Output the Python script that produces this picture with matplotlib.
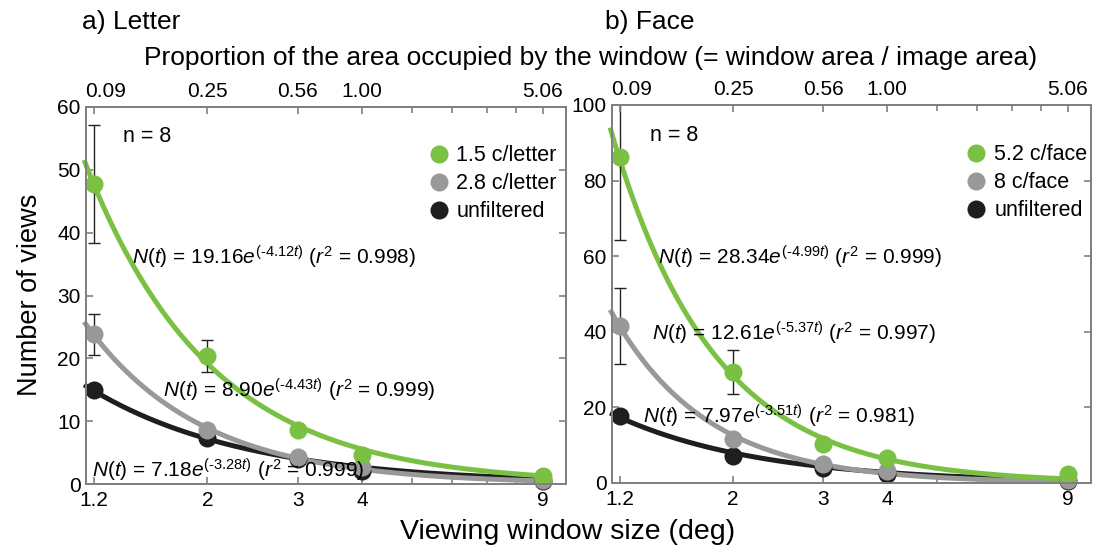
import numpy as np
import matplotlib
matplotlib.use("Agg")
import matplotlib.pyplot as plt
from matplotlib.lines import Line2D
from matplotlib.ticker import LogLocator, NullFormatter, FixedLocator
from matplotlib.transforms import ScaledTranslation

plt.rcParams['font.family'] = ['Liberation Sans', 'DejaVu Sans']
plt.rcParams['mathtext.fontset'] = 'custom'
plt.rcParams['mathtext.rm'] = 'Liberation Sans'
plt.rcParams['mathtext.it'] = 'Liberation Sans:italic'

#viewing window sizes (deg) and top axis labels
windows = [1.2, 2, 3, 4, 9]
top_labels = ['0.09', '0.25', '0.56', '1.00', '5.06']

#a) letter data
letter_green = [47.8, 20.4, 8.6, 4.6, 1.3]
letter_gray = [23.8, 8.6, 4.3, 2.7, 0.6]
letter_black = [14.9, 7.3, 3.9, 2.0, 0.5]
letter_green_err = [9.4, 2.5, np.nan, np.nan, np.nan]
letter_gray_err = [3.2, np.nan, np.nan, np.nan, np.nan]
letter_labels = ['1.5 c/letter', '2.8 c/letter', 'unfiltered']
#fit N(t) = a*e^(b t): a, b, r2
letter_a = [19.16, 8.90, 7.18]
letter_b = [-4.12, -4.43, -3.28]
letter_r2 = ['0.998', '0.999', '0.999']

#b) face data
face_green = [86.2, 29.4, 10.2, 6.6, 2.3]
face_gray = [41.5, 11.7, 4.9, 3.1, 0.8]
face_black = [17.6, 7.1, 4.0, 2.4, 0.5]
face_green_err = [22.0, 5.8, np.nan, np.nan, np.nan]
face_gray_err = [10.0, np.nan, np.nan, np.nan, np.nan]
face_labels = ['5.2 c/face', '8 c/face', 'unfiltered']
face_a = [28.34, 12.61, 7.97]
face_b = [-4.99, -5.37, -3.51]
face_r2 = ['0.999', '0.997', '0.981']

colors = ['#7ac143', '#999999', '#1e1e1e']
spine_col = '#808080'


def fit_label(a, b, r2):
    #hyphen (not minus) in the exponent, like the original
    return (r'$\mathit{N(t)}$ = %.2f$\mathit{e}^{(\mathrm{‐%.2f}\mathit{t})}$ ($\mathit{r}^{2}$ = %s)'
            % (a, abs(b), r2))


def draw_panel(ax, series, errs, a_s, b_s, r2s, labels, ylim, ystep,
               fit_pos, n_pos, leg_anchor):
    w = np.geomspace(1.15, 9, 200)
    #draw from back (black) to front (green)
    for i in [2, 1, 0]:
        t = np.log10(w / 2.0)
        ax.plot(w, a_s[i] * np.exp(b_s[i] * t), color=colors[i], lw=3.6,
                zorder=2 + (2 - i), clip_on=False, solid_capstyle='butt')
        if errs[i] is not None:
            err = np.array(errs[i])
            m = ~np.isnan(err)
            ax.errorbar(np.array(windows)[m], np.array(series[i])[m],
                        yerr=err[m], fmt='none', ecolor='#222222',
                        elinewidth=1.0, capsize=4, capthick=1.0, zorder=6)
        ax.plot(windows, series[i], 'o', color=colors[i], ms=13, mec='none',
                zorder=8 + (2 - i), clip_on=False)

    ax.set_xscale('log')
    ax.set_xlim(1.16, 10.0)
    ax.set_ylim(*ylim)
    ax.xaxis.set_major_locator(FixedLocator(windows))
    ax.set_xticklabels(['1.2', '2', '3', '4', '9'])
    ax.xaxis.set_minor_locator(LogLocator(subs=np.arange(2, 10)))
    ax.xaxis.set_minor_formatter(NullFormatter())
    ax.set_yticks(np.arange(ylim[0], ylim[1] + 1, ystep))
    ax.tick_params(axis='both', which='both', direction='in', color=spine_col,
                   labelsize=15, top=False, right=True)
    ax.tick_params(axis='both', which='major', length=5, width=1.2)
    ax.tick_params(axis='x', which='minor', length=4, width=1.2)
    ax.tick_params(axis='x', pad=5)
    ax.tick_params(axis='y', pad=4)
    for s in ax.spines.values():
        s.set_color(spine_col)
        s.set_linewidth(1.4)

    #top axis: proportion of area
    top = ax.twiny()
    top.set_xscale('log')
    top.set_xlim(ax.get_xlim())
    top.xaxis.set_major_locator(FixedLocator(windows))
    top.set_xticklabels(top_labels)
    top.xaxis.set_minor_locator(LogLocator(subs=np.arange(2, 10)))
    top.xaxis.set_minor_formatter(NullFormatter())
    top.tick_params(axis='x', which='both', direction='in', color=spine_col,
                    labelsize=15, pad=4)
    top.tick_params(axis='x', which='major', length=5, width=1.2)
    top.tick_params(axis='x', which='minor', length=4, width=1.2)
    for s in top.spines.values():
        s.set_color(spine_col)
        s.set_linewidth(1.4)
    #first top label sits a bit right of its tick
    lab0 = top.get_xticklabels()[0]
    lab0.set_transform(lab0.get_transform() +
                       ScaledTranslation(9 / 72, 0, ax.figure.dpi_scale_trans))

    #fit equations
    for i in range(3):
        ax.text(fit_pos[i][0], fit_pos[i][1], fit_label(a_s[i], b_s[i], r2s[i]),
                transform=ax.transAxes, ha='left', va='center', fontsize=15,
                zorder=20)
    ax.text(n_pos[0], n_pos[1], 'n = 8', transform=ax.transAxes,
            ha='left', va='center', fontsize=15.5)

    handles = [Line2D([], [], marker='o', ls='none', ms=13, color=c, mec='none')
               for c in colors]
    ax.legend(handles, labels, loc='upper left', bbox_to_anchor=leg_anchor,
              frameon=False, fontsize=15.5, handlelength=1.0, handletextpad=0.33,
              labelspacing=0.32, borderpad=0, borderaxespad=0)


fig = plt.figure(figsize=(11.02, 5.5), dpi=100, facecolor='white')
ax0 = fig.add_axes([86 / 1102, 1 - 484 / 550, 480 / 1102, 377 / 550])
ax1 = fig.add_axes([612 / 1102, 1 - 483 / 550, 479 / 1102, 378 / 550])

draw_panel(ax0, [letter_green, letter_gray, letter_black],
           [letter_green_err, letter_gray_err, None],
           letter_a, letter_b, letter_r2, letter_labels, (0, 60), 10,
           [(0.096, 0.602), (0.160, 0.249), (0.0125, 0.037)],
           (0.077, 0.923), (0.712, 0.898))
draw_panel(ax1, [face_green, face_gray, face_black],
           [face_green_err, face_gray_err, None],
           face_a, face_b, face_r2, face_labels, (0, 100), 20,
           [(0.096, 0.598), (0.0835, 0.397), (0.065, 0.177)],
           (0.079, 0.918), (0.738, 0.896))

#titles and shared labels
fig.text(82 / 1102, 1 - 22 / 550, 'a) Letter', ha='left', va='center', fontsize=19)
fig.text(605 / 1102, 1 - 22 / 550, 'b) Face', ha='left', va='center', fontsize=19)
fig.text(591 / 1102, 1 - 58 / 550,
         'Proportion of the area occupied by the window (= window area / image area)',
         ha='center', va='center', fontsize=19)
fig.text(568 / 1102, 1 - 532 / 550, 'Viewing window size (deg)',
         ha='center', va='center', fontsize=20.5)
fig.text(30 / 1102, 1 - 295 / 550, 'Number of views', ha='center', va='center',
         rotation=90, fontsize=19.5)

fig.savefig('out.png', dpi=100)
